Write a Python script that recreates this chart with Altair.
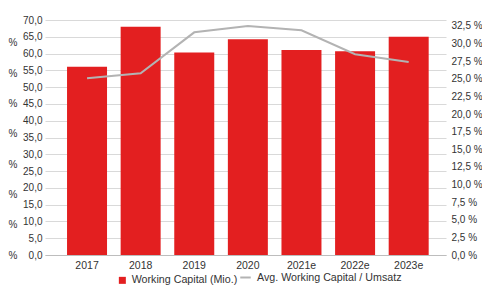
import altair as alt
import pandas as pd

years = ["2017", "2018", "2019", "2020", "2021e", "2022e", "2023e"]
working_capital = [56.1, 68.0, 60.3, 64.3, 61.1, 60.7, 65.0]
wc_ratio = [25.1, 25.8, 31.6, 32.5, 31.9, 28.5, 27.4]

bar_name = "Working Capital (Mio.)"
line_name = "Avg. Working Capital / Umsatz"

left_ticks = [i * 5 for i in range(15)]
right_ticks = [i * 2.5 for i in range(14)]
ghost_ticks = list(range(8))

df = pd.DataFrame({
    "year": years,
    "wc": working_capital,
    "ratio": wc_ratio,
    "s1": [bar_name] * len(years),
    "s2": [line_name] * len(years),
    "ghost": [0] * len(years),
})

RED = "#e31f20"
GRAY = "#b3b3b3"
FONT = "Liberation Sans"
TXT = "#333333"

x = alt.X("year:N", sort=years, title=None,
          scale=alt.Scale(paddingInner=0.254, paddingOuter=0.367, align=0.56),
          axis=alt.Axis(labelAngle=0, ticks=False, domain=True, domainColor="#bdbdbd",
                        labelPadding=5, labelFontSize=10.5, labelFont=FONT, labelColor=TXT))

base = alt.Chart(df)

bars = base.mark_bar(color=RED).encode(
    x=x,
    y=alt.Y("wc:Q", title=None, scale=alt.Scale(domain=[0, 70], nice=False),
            axis=alt.Axis(values=left_ticks, ticks=False, domain=False, grid=True,
                          gridColor="#d9d9d9", labelPadding=3, labelFontSize=10,
                          labelFont=FONT, labelColor=TXT,
                          labelExpr="replace(format(datum.value, '.1f'), '.', ',')")),
    color=alt.Color("s1:N", scale=alt.Scale(domain=[bar_name], range=[RED]),
                    legend=alt.Legend(orient="none", legendX=72, legendY=255, title=None,
                                      symbolType="square", symbolSize=49, labelOffset=4,
                                      labelFontSize=10.7, labelFont=FONT, labelColor=TXT,
                                      padding=0)),
)

line = base.mark_line(strokeWidth=2).encode(
    x=x,
    y=alt.Y("ratio:Q", title=None, scale=alt.Scale(domain=[0, 33.35], nice=False, zero=True),
            axis=alt.Axis(orient="right", values=right_ticks, ticks=False, domain=False,
                          grid=False, labelPadding=5, labelFontSize=10, labelFont=FONT,
                          labelColor=TXT,
                          labelExpr="replace(format(datum.value, '.1f'), '.', ',') + ' %'")),
    stroke=alt.Stroke("s2:N", scale=alt.Scale(domain=[line_name], range=[GRAY]),
                      legend=alt.Legend(orient="none", legendX=194, legendY=251, title=None,
                                        symbolType="stroke", symbolSize=110,
                                        symbolStrokeWidth=2, labelOffset=5,
                                        labelFontSize=10.7, labelFont=FONT, labelColor=TXT,
                                        padding=0)),
)

ghost = base.mark_point(opacity=0).encode(
    x=x,
    y=alt.Y("ghost:Q", title=None, scale=alt.Scale(domain=[0, 7.756], nice=False),
            axis=alt.Axis(orient="left", values=ghost_ticks, ticks=False, domain=False,
                          grid=False, offset=23, labelPadding=5, labelFontSize=10,
                          labelFont=FONT, labelColor=TXT, labelExpr="'%'")),
)

chart = alt.layer(bars, line, ghost).resolve_scale(
    y="independent", color="independent", stroke="independent"
).properties(
    width=401, height=235,
    autosize=alt.AutoSizeParams(type="none"),
    padding={"left": 37, "top": 12, "right": 36, "bottom": 30},
).configure_view(stroke=None)

chart.save("out.html", embed_options={"renderer": "svg", "actions": False})
